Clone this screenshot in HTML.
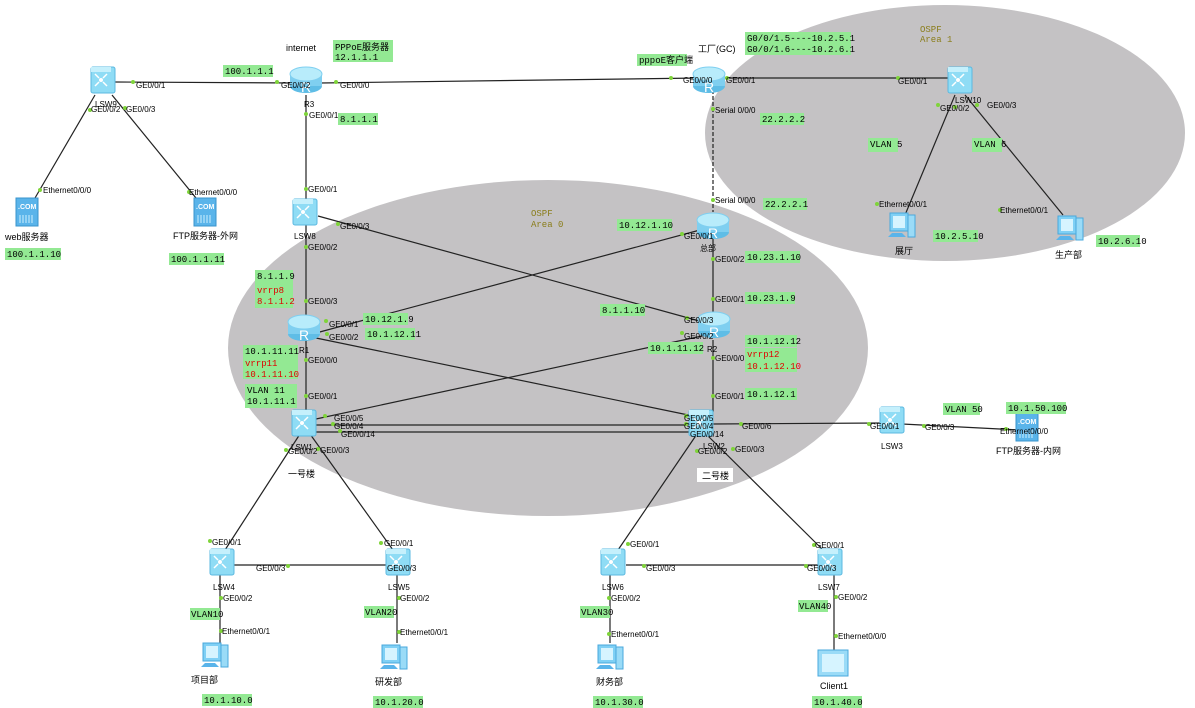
<!DOCTYPE html>
<html><head><meta charset="utf-8"><style>
html,body{margin:0;padding:0;background:#fff;width:1195px;height:708px;overflow:hidden}
svg{display:block}
.p{font-family:"Liberation Sans","WenQuanYi Zen Hei",sans-serif;font-size:8px;fill:#000}
.m{font-family:"Liberation Mono","WenQuanYi Zen Hei",monospace;font-size:9px;fill:#000}
.r{font-family:"Liberation Mono",monospace;font-size:9px;fill:#e00000}
.n{font-family:"Liberation Sans","WenQuanYi Zen Hei",sans-serif;font-size:9px;fill:#000}
.g{fill:#93e993}
.o{font-family:"Liberation Mono",monospace;font-size:9px;fill:#8a7d1a}
line{stroke:#222;stroke-width:1.2}
</style></head><body>
<svg width="1195" height="708" viewBox="0 0 1195 708" xmlns="http://www.w3.org/2000/svg">
<defs>
<g id="sw"><rect x="-12" y="-13" width="24" height="26" rx="2" fill="#8fdcf5" stroke="#5bb8e0"/><rect x="-12" y="-13" width="20" height="5" fill="#c5f0fc"/><circle cx="-2" cy="0" r="2" fill="#fff"/><path d="M-8,-6 L-4,-2 M4,-6 L0,-2 M-8,6 L-4,2 M4,6 L0,2" stroke="#fff" stroke-width="1.5"/></g>
<g id="rt"><ellipse cx="0" cy="6" rx="16" ry="7" fill="#5fbde6"/><rect x="-16" y="-6" width="32" height="12" fill="#7fcff0"/><ellipse cx="0" cy="-6" rx="16" ry="7" fill="#b8ecfb" stroke="#7fcff0"/><text x="-5" y="12" font-family="Liberation Sans" font-size="14" fill="#fff">R</text></g>
<g id="sv"><rect x="-10" y="-14" width="22" height="28" fill="#5ab4ea" stroke="#3a94cc"/><text x="-8" y="-3" font-family="Liberation Sans" font-size="7" font-weight="bold" fill="#fff">.COM</text><path d="M-6,3 v8 M-3,3 v8 M0,3 v8 M3,3 v8 M6,3 v8" stroke="#cfefff"/></g>
<g id="pc"><rect x="-10" y="-12" width="18" height="18" fill="#7fd0f5" stroke="#4aa8dc"/><rect x="-7" y="-9" width="12" height="12" fill="#d6f4ff"/><rect x="8" y="-10" width="7" height="22" fill="#9adbf7" stroke="#4aa8dc"/><path d="M-12,12 L6,12 L2,8 L-8,8 Z" fill="#5ab4ea"/></g>
</defs>

<ellipse cx="548" cy="348" rx="320" ry="168" fill="#c4c2c4"/>
<ellipse cx="945" cy="133" rx="240" ry="128" fill="#c4c2c4"/>
<text class="o" x="531" y="216">OSPF</text><text class="o" x="531" y="227">Area 0</text>
<text class="o" x="920" y="32">OSPF</text><text class="o" x="920" y="42">Area 1</text>

<line x1="115" y1="82" x2="296" y2="83"/>
<line x1="320" y1="83" x2="700" y2="78"/>
<line x1="722" y1="78" x2="950" y2="78"/>
<line x1="95" y1="95" x2="35" y2="198"/>
<line x1="112" y1="95" x2="196" y2="198"/>
<line x1="955" y1="95" x2="905" y2="215"/>
<line x1="965" y1="95" x2="1063" y2="215"/>
<line x1="306" y1="95" x2="306" y2="200"/>
<line x1="306" y1="224" x2="306" y2="318"/>
<line x1="713" y1="90" x2="713" y2="212" stroke-dasharray="4,2"/>
<line x1="713" y1="235" x2="713" y2="318"/>
<line x1="318" y1="216" x2="703" y2="322"/>
<line x1="316" y1="333" x2="700" y2="230"/>
<line x1="316" y1="338" x2="698" y2="417"/>
<line x1="316" y1="419" x2="702" y2="336"/>
<line x1="306" y1="340" x2="306" y2="412"/>
<line x1="713" y1="340" x2="713" y2="412"/>
<line x1="316" y1="425" x2="700" y2="425"/>
<line x1="316" y1="432" x2="700" y2="432" stroke-width="2"/>
<line x1="712" y1="424" x2="882" y2="423"/>
<line x1="902" y1="424" x2="1020" y2="430"/>
<line x1="300" y1="434" x2="225" y2="550"/>
<line x1="310" y1="434" x2="393" y2="550"/>
<line x1="697" y1="434" x2="618" y2="550"/>
<line x1="706" y1="434" x2="823" y2="550"/>
<line x1="234" y1="565" x2="392" y2="565" stroke-width="2"/>
<line x1="626" y1="565" x2="822" y2="565" stroke-width="2"/>
<line x1="220" y1="575" x2="220" y2="643"/>
<line x1="397" y1="575" x2="397" y2="643"/>
<line x1="610" y1="575" x2="610" y2="643"/>
<line x1="834" y1="575" x2="834" y2="650"/>

<g fill="#7fd43a">
<circle cx="133" cy="82" r="2"/><circle cx="277" cy="82" r="2"/><circle cx="336" cy="82" r="2"/><circle cx="671" cy="78" r="2"/><circle cx="727" cy="78" r="2"/><circle cx="898" cy="78" r="2"/>
<circle cx="90" cy="110" r="2"/><circle cx="125" cy="108" r="2"/><circle cx="40" cy="190" r="2"/><circle cx="189" cy="192" r="2"/>
<circle cx="306" cy="114" r="2"/><circle cx="306" cy="189" r="2"/><circle cx="306" cy="247" r="2"/><circle cx="338" cy="224" r="2"/><circle cx="306" cy="301" r="2"/>
<circle cx="713" cy="109" r="2"/><circle cx="713" cy="200" r="2"/><circle cx="682" cy="234" r="2"/><circle cx="713" cy="259" r="2"/><circle cx="713" cy="299" r="2"/>
<circle cx="955" cy="107" r="2"/><circle cx="938" cy="105" r="2"/><circle cx="977" cy="105" r="2"/><circle cx="877" cy="204" r="2"/><circle cx="1000" cy="210" r="2"/>
<circle cx="326" cy="321" r="2"/><circle cx="327" cy="334" r="2"/><circle cx="306" cy="360" r="2"/><circle cx="306" cy="396" r="2"/>
<circle cx="687" cy="318" r="2"/><circle cx="682" cy="333" r="2"/><circle cx="713" cy="358" r="2"/><circle cx="713" cy="396" r="2"/>
<circle cx="325" cy="416" r="2"/><circle cx="333" cy="424" r="2"/><circle cx="340" cy="431" r="2"/><circle cx="286" cy="450" r="2"/><circle cx="318" cy="449" r="2"/>
<circle cx="686" cy="416" r="2"/><circle cx="686" cy="424" r="2"/><circle cx="695" cy="431" r="2"/><circle cx="741" cy="424" r="2"/><circle cx="697" cy="451" r="2"/><circle cx="733" cy="449" r="2"/>
<circle cx="869" cy="424" r="2"/><circle cx="924" cy="426" r="2"/><circle cx="1006" cy="429" r="2"/>
<circle cx="210" cy="541" r="2"/><circle cx="381" cy="543" r="2"/><circle cx="221" cy="598" r="2"/><circle cx="221" cy="631" r="2"/><circle cx="288" cy="566" r="2"/><circle cx="389" cy="566" r="2"/><circle cx="399" cy="598" r="2"/><circle cx="399" cy="632" r="2"/>
<circle cx="628" cy="544" r="2"/><circle cx="609" cy="598" r="2"/><circle cx="609" cy="634" r="2"/><circle cx="814" cy="545" r="2"/><circle cx="644" cy="566" r="2"/><circle cx="806" cy="566" r="2"/><circle cx="836" cy="597" r="2"/><circle cx="836" cy="636" r="2"/>
</g>

<use href="#sw" x="103" y="80"/>
<use href="#rt" x="306" y="80"/>
<use href="#rt" x="709" y="80"/>
<use href="#sw" x="960" y="80"/>
<use href="#sv" x="26" y="212"/>
<use href="#sv" x="204" y="212"/>
<use href="#sw" x="305" y="212"/>
<use href="#rt" x="713" y="226"/>
<use href="#pc" x="900" y="225"/>
<use href="#pc" x="1068" y="228"/>
<use href="#rt" x="304" y="328"/>
<use href="#rt" x="714" y="325"/>
<use href="#sw" x="304" y="423"/>
<use href="#sw" x="701" y="423"/>
<use href="#sw" x="892" y="420"/>
<use href="#sv" x="1026" y="427"/>
<use href="#sw" x="222" y="562"/>
<use href="#sw" x="398" y="562"/>
<use href="#sw" x="613" y="562"/>
<use href="#sw" x="830" y="562"/>
<use href="#pc" x="213" y="655"/>
<use href="#pc" x="392" y="657"/>
<use href="#pc" x="608" y="657"/>
<rect x="818" y="650" width="30" height="26" fill="#9adbf7" stroke="#4aa8dc"/><rect x="822" y="654" width="22" height="18" fill="#d6f4ff"/>

<g class="p">
<text x="136" y="88">GE0/0/1</text><text x="91" y="112">GE0/0/2</text><text x="126" y="112">GE0/0/3</text><text x="95" y="107">LSW9</text>
<text x="281" y="88">GE0/0/2</text><text x="340" y="88">GE0/0/0</text><text x="304" y="107">R3</text><text x="309" y="118">GE0/0/1</text>
<text x="43" y="193">Ethernet0/0/0</text><text x="189" y="195">Ethernet0/0/0</text>
<text x="308" y="192">GE0/0/1</text><text x="294" y="239">LSW8</text><text x="340" y="229">GE0/0/3</text><text x="308" y="250">GE0/0/2</text>
<text x="683" y="83">GE0/0/0</text><text x="726" y="83">GE0/0/1</text><text x="715" y="113">Serial 0/0/0</text><text x="715" y="203">Serial 0/0/0</text>
<text x="898" y="84">GE0/0/1</text><text x="955" y="103">LSW10</text><text x="940" y="111">GE0/0/2</text><text x="987" y="108">GE0/0/3</text>
<text x="879" y="207">Ethernet0/0/1</text><text x="1000" y="213">Ethernet0/0/1</text>
<text x="684" y="239">GE0/0/1</text><text x="700" y="251">总部</text><text x="715" y="262">GE0/0/2</text><text x="715" y="302">GE0/0/1</text>
<text x="308" y="304">GE0/0/3</text><text x="329" y="327">GE0/0/1</text><text x="329" y="340">GE0/0/2</text><text x="299" y="353">R1</text><text x="308" y="363">GE0/0/0</text><text x="308" y="399">GE0/0/1</text>
<text x="684" y="323">GE0/0/3</text><text x="684" y="339">GE0/0/2</text><text x="707" y="352">R2</text><text x="715" y="361">GE0/0/0</text><text x="715" y="399">GE0/0/1</text>
<text x="334" y="421">GE0/0/5</text><text x="334" y="429">GE0/0/4</text><text x="341" y="437">GE0/0/14</text><text x="291" y="450">LSW1</text><text x="288" y="454">GE0/0/2</text><text x="320" y="453">GE0/0/3</text>
<text x="684" y="421">GE0/0/5</text><text x="684" y="429">GE0/0/4</text><text x="690" y="437">GE0/0/14</text><text x="703" y="449">LSW2</text><text x="698" y="454">GE0/0/2</text><text x="735" y="452">GE0/0/3</text><text x="742" y="429">GE0/0/6</text>
<text x="870" y="429">GE0/0/1</text><text x="881" y="449">LSW3</text><text x="925" y="430">GE0/0/3</text><text x="1000" y="434">Ethernet0/0/0</text>
<text x="212" y="545">GE0/0/1</text><text x="384" y="546">GE0/0/1</text><text x="256" y="571">GE0/0/3</text><text x="387" y="571">GE0/0/3</text><text x="213" y="590">LSW4</text><text x="388" y="590">LSW5</text><text x="223" y="601">GE0/0/2</text><text x="400" y="601">GE0/0/2</text><text x="222" y="634">Ethernet0/0/1</text><text x="400" y="635">Ethernet0/0/1</text>
<text x="630" y="547">GE0/0/1</text><text x="815" y="548">GE0/0/1</text><text x="646" y="571">GE0/0/3</text><text x="807" y="571">GE0/0/3</text><text x="602" y="590">LSW6</text><text x="818" y="590">LSW7</text><text x="611" y="601">GE0/0/2</text><text x="838" y="600">GE0/0/2</text><text x="611" y="637">Ethernet0/0/1</text><text x="838" y="639">Ethernet0/0/0</text>
</g>

<g class="n">
<text x="286" y="51">internet</text><text x="698" y="52">工厂(GC)</text>
<text x="5" y="240">web服务器</text><text x="173" y="239">FTP服务器-外网</text>
<text x="895" y="254">展厅</text><text x="1055" y="258">生产部</text>
<text x="288" y="477">一号楼</text>
<rect x="697" y="468" width="36" height="14" fill="#fff"/><text x="702" y="479">二号楼</text>
<text x="996" y="454">FTP服务器-内网</text>
<text x="191" y="683">项目部</text><text x="375" y="685">研发部</text><text x="596" y="685">财务部</text><text x="820" y="689">Client1</text>
</g>

<g class="g">
<rect x="333" y="40" width="60" height="22"/><rect x="223" y="65" width="50" height="12"/><rect x="338" y="113" width="40" height="12"/>
<rect x="5" y="248" width="56" height="12"/><rect x="169" y="253" width="55" height="12"/>
<rect x="637" y="54" width="50" height="12"/><rect x="745" y="32" width="106" height="23"/>
<rect x="760" y="113" width="44" height="12"/><rect x="763" y="198" width="44" height="12"/>
<rect x="617" y="219" width="55" height="12"/><rect x="745" y="251" width="55" height="12"/><rect x="745" y="292" width="50" height="12"/>
<rect x="868" y="138" width="30" height="14"/><rect x="972" y="138" width="30" height="14"/><rect x="933" y="230" width="45" height="12"/><rect x="1096" y="235" width="44" height="12"/>
<rect x="255" y="270" width="38" height="12"/><rect x="255" y="282" width="38" height="26"/>
<rect x="363" y="313" width="45" height="12"/><rect x="365" y="328" width="50" height="12"/>
<rect x="600" y="304" width="45" height="12"/><rect x="648" y="342" width="55" height="12"/>
<rect x="243" y="345" width="55" height="12"/><rect x="243" y="357" width="55" height="22"/><rect x="245" y="384" width="52" height="24"/>
<rect x="745" y="335" width="52" height="12"/><rect x="745" y="348" width="52" height="24"/><rect x="745" y="388" width="52" height="12"/>
<rect x="943" y="403" width="37" height="12"/><rect x="1006" y="402" width="60" height="12"/>
<rect x="190" y="608" width="30" height="12"/><rect x="364" y="606" width="30" height="12"/><rect x="580" y="606" width="30" height="12"/><rect x="798" y="600" width="30" height="12"/>
<rect x="202" y="694" width="50" height="12"/><rect x="373" y="696" width="50" height="12"/><rect x="593" y="696" width="50" height="12"/><rect x="812" y="696" width="50" height="12"/>
</g>
<g class="m">
<text x="335" y="50">PPPoE服务器</text><text x="335" y="60">12.1.1.1</text><text x="225" y="74">100.1.1.1</text><text x="340" y="122">8.1.1.1</text>
<text x="7" y="257">100.1.1.10</text><text x="171" y="262">100.1.1.11</text>
<text x="639" y="63">pppoE客户端</text><text x="747" y="41">G0/0/1.5----10.2.5.1</text><text x="747" y="52">G0/0/1.6----10.2.6.1</text>
<text x="762" y="122">22.2.2.2</text><text x="765" y="207">22.2.2.1</text>
<text x="619" y="228">10.12.1.10</text><text x="747" y="260">10.23.1.10</text><text x="747" y="301">10.23.1.9</text>
<text x="870" y="147">VLAN 5</text><text x="974" y="147">VLAN 6</text><text x="935" y="239">10.2.5.10</text><text x="1098" y="244">10.2.6.10</text>
<text x="257" y="279">8.1.1.9</text><text x="365" y="322">10.12.1.9</text><text x="367" y="337">10.1.12.11</text>
<text x="602" y="313">8.1.1.10</text><text x="650" y="351">10.1.11.12</text>
<text x="245" y="354">10.1.11.11</text><text x="247" y="393">VLAN 11</text><text x="247" y="404">10.1.11.1</text>
<text x="747" y="344">10.1.12.12</text><text x="747" y="397">10.1.12.1</text>
<text x="945" y="412">VLAN 50</text><text x="1008" y="411">10.1.50.100</text>
<text x="191" y="617">VLAN10</text><text x="365" y="615">VLAN20</text><text x="581" y="615">VLAN30</text><text x="799" y="609">VLAN40</text>
<text x="204" y="703">10.1.10.0</text><text x="375" y="705">10.1.20.0</text><text x="595" y="705">10.1.30.0</text><text x="814" y="705">10.1.40.0</text>
</g>
<g class="r">
<text x="257" y="293">vrrp8</text><text x="257" y="304">8.1.1.2</text>
<text x="245" y="366">vrrp11</text><text x="245" y="377">10.1.11.10</text>
<text x="747" y="357">vrrp12</text><text x="747" y="369">10.1.12.10</text>
</g>
</svg>
</body></html>
